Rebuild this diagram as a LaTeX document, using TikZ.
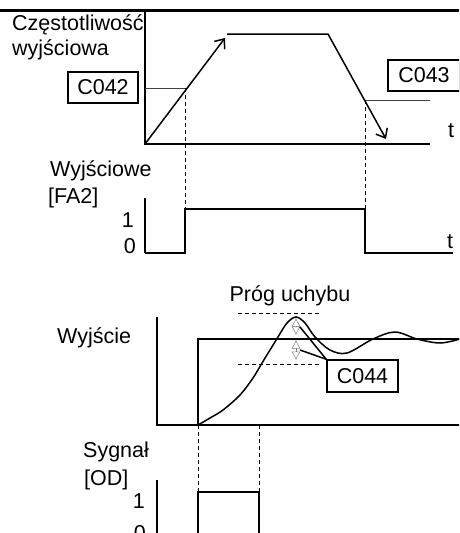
\documentclass[tikz,border=0pt]{standalone}
\usepackage{fontspec}
\setmainfont{Liberation Sans}
\usetikzlibrary{arrows.meta, positioning}

\begin{document}
\begin{tikzpicture}[
    x=1pt, y=-1pt,
    every node/.style={font=\fontsize{21.5}{24}\selectfont, inner sep=0pt},
    lbl/.style={anchor=base west},
    num/.style={anchor=base east},
    param/.style={draw, line width=1.5pt, minimum width=70pt, minimum height=31pt},
    ax/.style={line width=1.5pt},
    sig/.style={line width=1.5pt, line join=miter},
    ramp/.style={line width=1.5pt, -{Straight Barb[length=8pt, width=13pt]}},
    level/.style={line width=1pt, black!75},
    guide/.style={line width=0.9pt, dash pattern=on 4pt off 3pt},
    band/.style={gray, line width=0.5pt, {Latex[open, length=8.5pt, width=9pt]}-{Latex[open, length=8.5pt, width=9pt]}},
]
\useasboundingbox (0,0) rectangle (459,533);
\clip (0,0) rectangle (459,533);

% top rule
\coordinate (ruleL) at (0,10);
\coordinate (ruleR) at (459,10);
\draw[line width=3pt] (ruleL) -- (ruleR);

% output frequency
\coordinate (f0) at (145,144);
\coordinate (ftop) at (145,12);
\coordinate (fend) at (430,144);
\coordinate (acc) at (225,38);
\coordinate (hold1) at (227,34);
\coordinate (hold2) at (328,34);
\coordinate (dec) at (386,139);
\coordinate (on) at (185,88);
\coordinate (off) at (365,100);
\coordinate (offend) at (430,100);

\node[lbl] (freq1) at (12,30) {Częstotliwość};
\node[lbl] (freq2) at (12,55) {wyjściowa};
\node[param] (c042) at (103,87.5) {C042};
\node[param, minimum width=72pt] (c043) at (424,75.5) {C043};
\node[lbl] (tf) at (448,137) {t};

\draw[ax] (ftop) -- (f0) -- (fend);
\draw[ramp] (f0) -- (acc);
\draw[ramp] (hold1) -- (hold2) -- (dec);
\draw[level] (on -| f0) -- (on);
\draw[level] (off) -- (offend);

% FA2
\coordinate (a0) at (145,253);
\coordinate (atop) at (145,198);
\coordinate (fa1) at (185,209);
\coordinate (fa2) at (365,209);
\coordinate (aend) at (453,253);

\node[lbl] (fa2a) at (50,176) {Wyjściowe};
\node[lbl] (fa2b) at (48,203) {[FA2]};
\node[num] (one1) at (134,227) {1};
\node[num] (zero1) at (136,253) {0};
\node[lbl] (ta) at (447,248) {t};

\draw[ax] (atop) -- (a0);
\draw[sig] (a0) -- (fa1 |- a0) -- (fa1) -- (fa2) -- (fa2 |- a0) -- (aend);
\draw[guide] (on) -- (fa1);
\draw[guide] (off) -- (fa2);

% output with overshoot
\coordinate (w0) at (157,425);
\coordinate (wtop) at (157,317);
\coordinate (wend) at (460,425);
\coordinate (s0) at (198,425);
\coordinate (s1) at (198,339);
\coordinate (s2) at (460,339);
\coordinate (d0) at (259,425);

\node[anchor=base] (prog) at (290,301) {Próg uchybu};
\node[lbl] (wy) at (57,343) {Wyjście};
\node[param, minimum width=71pt, minimum height=32pt] (c044) at (362.5,376) {C044};

\draw[ax] (wtop) -- (w0) -- (wend);
\draw[sig] (s0) -- (s1) -- (s2);
\draw[sig] plot[smooth, tension=0.55] coordinates {(198,425) (210,418) (223,410) (240,395) (253,378) (262,363) (270,350) (278,337) (287,323) (296,317) (305,323) (315,337) (330,350) (347,353) (373,339) (395,332) (417,339) (440,343) (460,339)};

\coordinate (hiL) at (238,313);
\coordinate (hiR) at (320,313);
\coordinate (loL) at (238,364);
\coordinate (loR) at (320,364);
\draw[guide] (hiL) -- (hiR);
\draw[guide] (loL) -- (loR);

\coordinate (up1) at (296,318);
\coordinate (up2) at (296,335);
\coordinate (dn1) at (296,340);
\coordinate (dn2) at (296,360);
\draw[band] (up1) -- (up2);
\draw[band] (dn1) -- (dn2);

\coordinate (bu) at (300,327);
\coordinate (bl) at (300,350);
\draw[ax] (c044.north west) -- (bu);
\draw[ax] (c044.north west) -- (bl);

% OD
\coordinate (o0) at (157,480);
\coordinate (obot) at (157,540);
\coordinate (od1) at (198,492);
\coordinate (od2) at (259,492);

\node[lbl] (sy1) at (83,457) {Sygnał};
\node[lbl] (sy2) at (84,485) {[OD]};
\node[num] (one2) at (145,508) {1};
\node[num] (zero2) at (146,540) {0};

\draw[ax] (o0) -- (obot);
\draw[sig] (od1 |- obot) -- (od1) -- (od2) -- (od2 |- obot);
\draw[guide] (s0) -- (od1);
\draw[guide] (d0) -- (od2);

\end{tikzpicture}
\end{document}
